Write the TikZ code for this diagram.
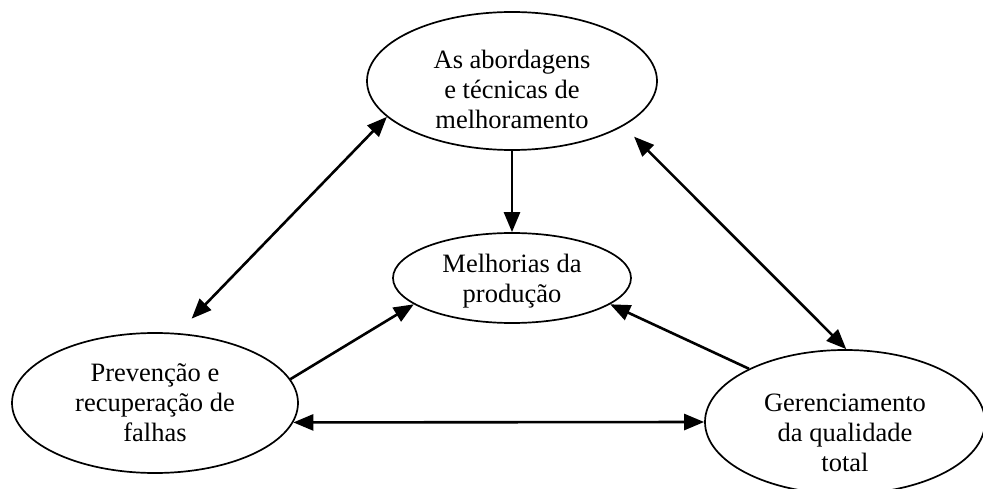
\documentclass[tikz,border=0pt]{standalone}
\usepackage{fontspec}
\setmainfont{Liberation Serif}
\usepackage{tikz}
\usetikzlibrary{shapes.geometric,arrows.meta}

\tikzset{
   bubble/.style={ellipse, draw=black, line width=1.7pt, inner sep=-6pt, align=center,
      font=\fontsize{26.5}{30}\selectfont},
   link/.style={line width=2.6pt, -{Triangle[length=20pt,width=16pt]}},
   bilink/.style={line width=2.6pt,
      {Triangle[length=20pt,width=16pt]}-{Triangle[length=20pt,width=16pt]}}
}

\begin{document}
\begin{tikzpicture}[x=1pt, y=-1pt]

   \useasboundingbox (0,0) rectangle (983,489);

   \node[bubble, minimum width=290pt, minimum height=138pt] (tecnicas) at (512,81)
      {\rule{0pt}{36pt}As abordagens\\e técnicas de\\melhoramento};
   \node[bubble, minimum width=238pt, minimum height=90pt] (melhorias) at (512,278)
      {\rule{0pt}{24pt}Melhorias da\\produção};
   \node[bubble, minimum width=286pt, minimum height=140pt] (prevencao) at (155,403)
      {Prevenção e\\recuperação de\\falhas};
   \node[bubble, minimum width=280pt, minimum height=144pt] (gestao) at (845,422)
      {\rule{0pt}{40pt}Gerenciamento\\da qualidade\\total};

   \draw[bilink, shorten >=20pt] (tecnicas.196) -- (prevencao.72);
   \draw[bilink, shorten <=15pt] (tecnicas.338) -- (gestao.89);
   \draw[link] (tecnicas.south) -- (melhorias.north);
   \draw[link] (prevencao.10) -- (melhorias.195);
   \draw[link] (gestao.151) -- (melhorias.345);
   \draw[bilink] (prevencao.-8) -- (gestao.west);

\end{tikzpicture}
\end{document}
